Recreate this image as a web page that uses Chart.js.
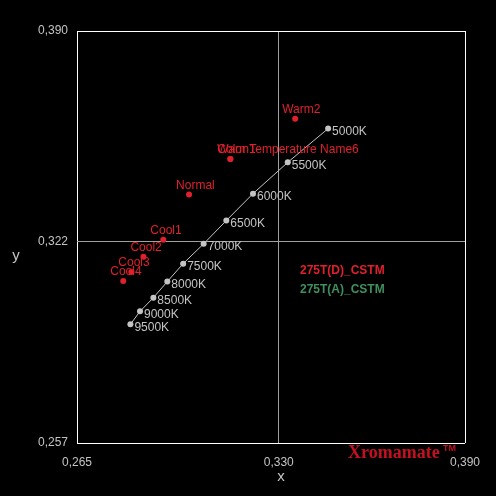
<!DOCTYPE html>
<html>
<head>
<meta charset="utf-8">
<script src="https://cdn.jsdelivr.net/npm/chart.js@4/dist/chart.umd.min.js"></script>
<style>
  html, body { margin: 0; padding: 0; background: #000; }
  #wrap { width: 496px; height: 496px; }
</style>
</head>
<body>
<div id="wrap"><canvas id="myChart"></canvas></div>
<script>
// color temperature line (gray)
const kelvinLabels = ["5000K", "5500K", "6000K", "6500K", "7000K", "7500K", "8000K", "8500K", "9000K", "9500K"];
const kelvinX = [0.3459, 0.3329, 0.3217, 0.3131, 0.3058, 0.2992, 0.2941, 0.2896, 0.2853, 0.2822];
const kelvinY = [0.3585, 0.3476, 0.3375, 0.3288, 0.3213, 0.3149, 0.3091, 0.3039, 0.2995, 0.2953];

// named presets (red)
const presetLabels = ["Warm2", "Warm1", "Color Temperature Name6", "Normal", "Cool1", "Cool2", "Cool3", "Cool4"];
const presetX = [0.3353, 0.3144, 0.3144, 0.3011, 0.2928, 0.2864, 0.2825, 0.2799];
const presetY = [0.3617, 0.3487, 0.3487, 0.3372, 0.3226, 0.3171, 0.3122, 0.3093];

// axis ticks
const xTicks = [0.265, 0.330, 0.390];
const yTicks = [0.257, 0.322, 0.390];

const legendNames = ["275T(D)_CSTM", "275T(A)_CSTM"];

const grayCol = "#c4c4c4";
const redCol = "#e0202c";

// black background, point labels, legend text, axis titles, logo
const extras = {
    id: "extras",
    beforeDraw(chart) {
        const c = chart.ctx;
        c.save();
        c.fillStyle = "#000";
        c.fillRect(0, 0, chart.width, chart.height);
        c.restore();
    },
    afterDatasetsDraw(chart) {
        const c = chart.ctx;
        c.save();
        c.textBaseline = "middle";
        // kelvin labels to the right of each point
        c.font = "12px 'Liberation Sans'";
        c.fillStyle = grayCol;
        c.textAlign = "left";
        chart.getDatasetMeta(0).data.forEach((pt, i) => {
            c.fillText(kelvinLabels[i], pt.x + 4, pt.y + 3);
        });
        // preset labels above each point
        c.fillStyle = redCol;
        chart.getDatasetMeta(1).data.forEach((pt, i) => {
            c.fillText(presetLabels[i], pt.x - 13, pt.y - 9);
        });

        // legend
        c.font = "bold 12px 'Liberation Sans'";
        c.fillStyle = "#e0202c";
        c.fillText(legendNames[0], 300, 271);
        c.fillStyle = "#3f8f5f";
        c.fillText(legendNames[1], 300, 290);

        // axis titles (upright)
        c.font = "15px 'Liberation Sans'";
        c.fillStyle = grayCol;
        c.textAlign = "center";
        c.fillText("y", 16, 256);
        c.fillText("x", 281, 477);

        // logo
        c.textAlign = "left";
        c.textBaseline = "alphabetic";
        c.font = "bold 18px 'Liberation Serif'";
        c.fillStyle = "#c41020";
        c.fillText("Xromamate", 348, 458);
        c.font = "bold 9px 'Liberation Sans'";
        c.fillText("TM", 443, 451);
        c.restore();
    }
};

const ctx = document.getElementById("myChart");

const myChart = new Chart(ctx, {
    type: "scatter",
    data: {
        datasets: [
            {
                label: "kelvin",
                data: kelvinX.map((x, i) => ({ x: x, y: kelvinY[i] })),
                showLine: true,
                borderColor: grayCol,
                borderWidth: 1,
                backgroundColor: grayCol,
                pointRadius: 3,
                pointBorderWidth: 0,
            },
            {
                label: "presets",
                data: presetX.map((x, i) => ({ x: x, y: presetY[i] })),
                showLine: false,
                backgroundColor: redCol,
                pointRadius: 3,
                pointBorderWidth: 0,
            }
        ]
    },
    options: {
        responsive: true,
        maintainAspectRatio: false,
        animation: false,
        layout: {
            padding: { top: 31, right: 31, left: 0, bottom: 0 }
        },
        scales: {
            x: {
                type: "linear",
                min: 0.265,
                max: 0.390,
                afterBuildTicks: axis => { axis.ticks = xTicks.map(v => ({ value: v })); },
                afterFit: axis => { axis.height = 53; },
                border: { display: false },
                grid: {
                    drawTicks: false,
                    lineWidth: 1,
                    color: c => c.index === 1 ? "#a0a0a0" : "#ffffff",
                },
                ticks: {
                    padding: 12,
                    maxRotation: 0,
                    color: grayCol,
                    font: { family: "Liberation Sans", size: 12 },
                    callback: v => v.toFixed(3).replace(".", ","),
                }
            },
            y: {
                type: "linear",
                min: 0.257,
                max: 0.390,
                afterBuildTicks: axis => { axis.ticks = yTicks.map(v => ({ value: v })); },
                afterFit: axis => { axis.width = 77; },
                border: { display: false },
                grid: {
                    drawTicks: false,
                    lineWidth: 1,
                    color: c => c.index === 1 ? "#a0a0a0" : "#ffffff",
                },
                ticks: {
                    padding: 9,
                    color: grayCol,
                    font: { family: "Liberation Sans", size: 12 },
                    callback: v => v.toFixed(3).replace(".", ","),
                }
            }
        },
        plugins: {
            legend: { display: false },
            tooltip: { enabled: false }
        }
    },
    plugins: [extras]
});
</script>
</body>
</html>
